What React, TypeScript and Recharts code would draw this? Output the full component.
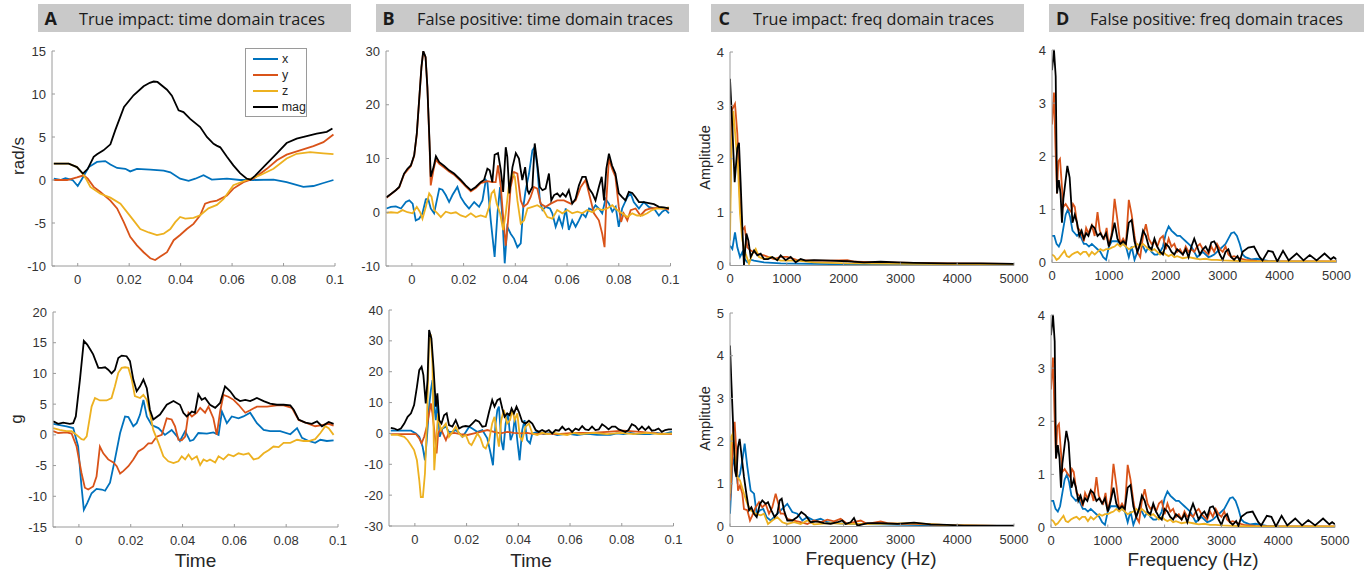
import React from 'react';
import { LineChart, Line, XAxis, YAxis, Legend } from 'recharts';

type Pt = [number, number];

// ---------------- ticks & labels ----------------
const timeTicks = [0, 0.02, 0.04, 0.06, 0.08, 0.1];
const freqTicks = [0, 1000, 2000, 3000, 4000, 5000];
const aTopYTicks = [-10, -5, 0, 5, 10, 15];
const aBotYTicks = [-15, -10, -5, 0, 5, 10, 15, 20];
const bTopYTicks = [-10, 0, 10, 20, 30];
const bBotYTicks = [-30, -20, -10, 0, 10, 20, 30, 40];
const cTopYTicks = [0, 1, 2, 3, 4];
const cBotYTicks = [0, 1, 2, 3, 4, 5];
const dYTicks = [0, 1, 2, 3, 4];
const seriesNames = ['x', 'y', 'z', 'mag'];
const seriesColors = ['#0072BD', '#D95319', '#EDB120', '#000000'];
const headerLetters = ['A', 'B', 'C', 'D'];
const headerTitles = [
  'True impact: time domain traces',
  'False positive: time domain traces',
  'True impact: freq domain traces',
  'False positive: freq domain traces',
];

// ---------------- A top: rad/s (true impact) ----------------
const aTopX: Pt[] = [[-0.0093,0.15],[-0.0067,0.0],[-0.0048,0.2],[-0.002,0.0],[0,-0.7],[0.0017,0.15],[0.0043,1.5],[0.0075,2.1],[0.0107,2.2],[0.0127,1.8],[0.0153,1.4],[0.0185,1.3],[0.0204,1.0],[0.023,1.3],[0.0282,1.2],[0.0334,1.1],[0.036,0.9],[0.0398,0.15],[0.0431,-0.1],[0.0457,0.15],[0.0489,0.55],[0.0521,0.05],[0.058,0.15],[0.0631,0.0],[0.0683,0.0],[0.0761,0.05],[0.0812,-0.25],[0.0877,-0.8],[0.0916,-0.7],[0.0955,-0.35],[0.0994,0.0]];
const aTopY: Pt[] = [[-0.0093,0.0],[-0.0041,0.0],[-0.0003,0.3],[0.0023,0.55],[0.0039,0.15],[0.0062,-0.8],[0.0088,-1.4],[0.0127,-2.4],[0.0153,-3.3],[0.0179,-4.9],[0.0204,-6.6],[0.023,-7.6],[0.0256,-8.4],[0.0282,-9.1],[0.0301,-9.3],[0.0321,-8.9],[0.0347,-8.4],[0.0373,-7.0],[0.0398,-6.4],[0.0424,-5.7],[0.045,-5.1],[0.0476,-4.1],[0.0495,-2.75],[0.0515,-2.55],[0.0541,-2.4],[0.058,-1.8],[0.0605,-1.0],[0.0644,-0.25],[0.0683,0.15],[0.0735,1.3],[0.0774,2.3],[0.0812,2.95],[0.0864,3.45],[0.0916,3.95],[0.0955,4.4],[0.0994,5.3]];
const aTopZ: Pt[] = [[-0.0093,1.9],[-0.0035,1.9],[-0.0003,1.5],[0.002,0.7],[0.0035,0.0],[0.0049,-0.8],[0.0088,-1.6],[0.0127,-2.05],[0.0166,-2.75],[0.0191,-3.7],[0.0217,-4.7],[0.0243,-5.7],[0.0276,-6.1],[0.0308,-6.4],[0.0334,-6.25],[0.036,-5.7],[0.0379,-4.9],[0.0398,-4.3],[0.0418,-4.5],[0.045,-4.4],[0.0476,-4.1],[0.0508,-3.3],[0.0541,-2.9],[0.0567,-2.2],[0.0605,-0.6],[0.0657,0.0],[0.0709,0.55],[0.0761,1.3],[0.0812,2.5],[0.0851,3.05],[0.0903,3.25],[0.0955,3.1],[0.0994,3.0]];
const aTopMag: Pt[] = [[-0.0093,1.9],[-0.0035,1.9],[-0.0003,1.5],[0.002,0.75],[0.0039,1.3],[0.0062,2.7],[0.0075,3.0],[0.01,3.45],[0.0127,4.15],[0.0146,5.8],[0.018,8.5],[0.0217,9.85],[0.0256,10.9],[0.028,11.3],[0.0295,11.45],[0.031,11.4],[0.0347,10.5],[0.0366,9.8],[0.0392,8.1],[0.0411,7.9],[0.0437,7.1],[0.0476,6.15],[0.0502,5.0],[0.0528,4.2],[0.054,4.0],[0.0554,3.8],[0.058,2.7],[0.0605,1.7],[0.0631,0.8],[0.0657,0.15],[0.0672,0.05],[0.069,0.5],[0.0735,1.9],[0.0774,3.1],[0.0812,4.3],[0.0851,4.8],[0.089,5.1],[0.0929,5.4],[0.0968,5.6],[0.099,6.0]];

// ---------------- A bottom: g (true impact) ----------------
const aBotX: Pt[] = [[-0.0099,1.8],[-0.0048,1.4],[-0.0022,1.1],[-0.0003,-1.9],[0.001,-8.4],[0.0019,-12.2],[0.0032,-11.1],[0.0049,-9.5],[0.0068,-8.8],[0.0088,-8.9],[0.0101,-9.1],[0.012,-7.8],[0.0139,-4.0],[0.0159,0.3],[0.0178,3.0],[0.0191,2.9],[0.021,1.4],[0.0223,1.9],[0.0236,3.3],[0.0249,5.7],[0.0262,3.0],[0.0281,1.6],[0.0307,1.1],[0.0332,0.0],[0.0358,0.8],[0.0378,-0.2],[0.039,-1.0],[0.041,0.6],[0.0429,-1.0],[0.0442,-0.8],[0.0461,0.3],[0.0494,0.2],[0.0519,0.4],[0.0539,0.0],[0.0552,3.8],[0.0571,1.9],[0.059,3.0],[0.0616,2.7],[0.0635,3.0],[0.0661,3.6],[0.0687,1.9],[0.0713,0.8],[0.0738,0.6],[0.0777,0.6],[0.0816,0.1],[0.0842,1.1],[0.0861,-0.5],[0.0887,-1.0],[0.0912,-1.3],[0.0932,-0.8],[0.0957,-1.0],[0.0983,-0.9]];
const aBotY: Pt[] = [[-0.0099,0.6],[-0.008,0.3],[-0.0048,0.4],[-0.0028,0.2],[-0.0009,-1.9],[0.001,-6.2],[0.0023,-8.6],[0.0036,-8.9],[0.0055,-8.4],[0.0068,-6.8],[0.0081,-1.9],[0.0094,-3.0],[0.0113,-4.0],[0.0133,-4.5],[0.0146,-5.1],[0.0159,-6.3],[0.0171,-5.9],[0.0191,-5.1],[0.021,-4.0],[0.0229,-2.7],[0.0249,-2.2],[0.0268,-1.4],[0.0281,-1.4],[0.03,-0.3],[0.032,0.0],[0.0339,2.7],[0.0358,2.5],[0.0371,1.4],[0.0384,-0.8],[0.0397,-0.9],[0.041,-0.3],[0.0423,3.6],[0.0436,3.0],[0.0455,3.6],[0.0468,4.4],[0.0487,3.6],[0.05,4.6],[0.0519,2.7],[0.0532,0.0],[0.0545,3.8],[0.0558,6.5],[0.0577,6.2],[0.0597,5.7],[0.0616,4.9],[0.0642,3.6],[0.0661,4.0],[0.0687,4.6],[0.0726,4.6],[0.0764,4.8],[0.079,4.8],[0.0822,4.4],[0.0848,2.4],[0.088,1.9],[0.0912,1.4],[0.0938,1.6],[0.0964,1.8],[0.0983,1.5]];
const aBotZ: Pt[] = [[-0.0099,1.1],[-0.0074,0.8],[-0.0048,0.6],[-0.0028,0.6],[-0.0009,0.0],[0.001,-0.7],[0.0019,-0.8],[0.003,-0.25],[0.0049,4.6],[0.0062,6.0],[0.0081,5.6],[0.0107,5.6],[0.0126,6.0],[0.0139,7.9],[0.0152,10.1],[0.0165,10.9],[0.0178,11.0],[0.0191,10.9],[0.0204,9.0],[0.0216,6.3],[0.0236,6.0],[0.0249,6.5],[0.0262,5.7],[0.0274,3.6],[0.0287,0.8],[0.0307,-1.3],[0.0326,-3.5],[0.0345,-4.3],[0.0365,-4.6],[0.0384,-4.3],[0.0397,-3.5],[0.041,-4.0],[0.0423,-3.2],[0.0436,-4.0],[0.0455,-3.5],[0.0468,-4.9],[0.0481,-4.0],[0.0494,-4.3],[0.0506,-4.0],[0.0526,-4.5],[0.0539,-3.5],[0.0558,-4.0],[0.0577,-3.2],[0.0597,-3.5],[0.0616,-3.0],[0.0635,-3.2],[0.0655,-3.0],[0.0674,-4.0],[0.0693,-3.8],[0.0713,-3.0],[0.0732,-2.5],[0.0751,-1.9],[0.0771,-2.0],[0.079,-1.3],[0.0816,-1.3],[0.0842,-0.8],[0.0867,-1.0],[0.0887,-1.0],[0.0912,-0.7],[0.0932,0.3],[0.0951,1.4],[0.0964,1.1],[0.0983,0.0]];
const aBotMag: Pt[] = [[-0.0099,2.2],[-0.008,1.8],[-0.0061,2.0],[-0.0035,1.8],[-0.0022,1.9],[-0.0012,3.0],[0.0004,9.0],[0.0019,15.3],[0.0032,14.7],[0.0045,13.8],[0.0055,13.1],[0.0075,10.9],[0.0088,10.9],[0.0101,11.0],[0.0113,10.6],[0.0126,10.0],[0.0139,10.6],[0.0152,12.5],[0.0165,12.9],[0.0184,12.8],[0.0197,12.0],[0.021,9.0],[0.0223,7.1],[0.0236,7.9],[0.0249,9.0],[0.0262,7.6],[0.0274,4.1],[0.0287,2.5],[0.0313,3.3],[0.0339,4.9],[0.0365,5.5],[0.039,4.9],[0.0403,3.6],[0.0416,3.0],[0.0436,3.8],[0.0448,3.6],[0.0461,6.6],[0.0474,5.7],[0.0487,6.0],[0.0506,4.9],[0.0526,4.4],[0.0545,5.2],[0.0564,7.9],[0.0584,7.1],[0.0603,6.0],[0.0622,5.5],[0.0642,5.7],[0.0661,5.5],[0.0687,6.0],[0.0713,5.5],[0.0738,5.1],[0.0764,4.9],[0.079,4.9],[0.0816,4.8],[0.0829,4.1],[0.0848,2.5],[0.0874,2.0],[0.0899,1.8],[0.0919,2.2],[0.0938,1.4],[0.0964,2.1],[0.0983,1.8]];

// ---------------- B top: rad/s (false positive) ----------------
const bTopX: Pt[] = [[-0.0098,0.7],[-0.0081,1.0],[-0.0062,1.1],[-0.0042,0.7],[-0.0023,1.9],[-0.001,2.2],[0.0003,1.6],[0.0015,-1.5],[0.0028,-1.2],[0.0041,-0.2],[0.0054,2.4],[0.0063,2.5],[0.0073,0.7],[0.0086,-0.2],[0.0106,4.4],[0.0118,4.2],[0.0131,3.2],[0.0144,1.9],[0.0157,3.2],[0.0176,4.7],[0.0189,2.8],[0.0205,1.6],[0.0221,0.7],[0.0241,1.9],[0.026,1.0],[0.0273,2.2],[0.0286,6.0],[0.0292,5.6],[0.0305,-1.5],[0.032,-8.3],[0.0331,-0.2],[0.0341,4.7],[0.035,-0.9],[0.0359,-9.5],[0.0369,-2.7],[0.0382,-4.0],[0.0395,-4.9],[0.0408,-6.5],[0.0421,-5.8],[0.0431,1.0],[0.044,4.1],[0.0453,7.2],[0.0466,11.5],[0.0475,12.1],[0.0485,8.4],[0.0495,2.2],[0.0505,0.4],[0.0517,1.0],[0.0534,0.7],[0.0543,-0.2],[0.0556,-2.7],[0.0569,-0.9],[0.0582,-2.7],[0.0595,0.7],[0.0607,-3.3],[0.062,-1.5],[0.0633,-2.7],[0.0646,-1.5],[0.0659,-0.2],[0.0672,-0.9],[0.0685,0.7],[0.0698,0.4],[0.071,1.3],[0.0723,0.7],[0.0736,-0.2],[0.0749,2.5],[0.0762,1.6],[0.0775,0.1],[0.0788,1.0],[0.08,-2.7],[0.0813,0.7],[0.0833,2.8],[0.0846,3.5],[0.0858,1.9],[0.0878,0.7],[0.0897,1.9],[0.0916,1.0],[0.0936,0.7],[0.0955,-0.6],[0.0968,0.1],[0.0981,0.5],[0.0994,-0.2]];
const bTopY: Pt[] = [[-0.0098,2.7],[-0.0049,4.6],[-0.003,7.1],[-0.0004,8.6],[0.0009,10.5],[0.0019,14.5],[0.0028,20.7],[0.0037,26.9],[0.0044,29.9],[0.0053,28.8],[0.006,23.2],[0.0068,13.0],[0.0073,5.0],[0.0084,8.0],[0.0093,9.8],[0.0106,9.0],[0.0125,8.3],[0.0144,7.6],[0.0163,7.0],[0.0189,5.8],[0.0208,4.8],[0.0228,3.9],[0.0247,4.5],[0.0266,5.4],[0.0279,5.6],[0.0292,5.8],[0.0311,5.6],[0.0324,5.6],[0.0333,8.7],[0.0344,4.7],[0.0353,-0.9],[0.0363,-6.2],[0.0372,-1.5],[0.0382,4.7],[0.0395,7.5],[0.0408,7.2],[0.0421,2.2],[0.0431,1.0],[0.0447,1.6],[0.0459,2.8],[0.0472,4.7],[0.0485,4.4],[0.0498,1.6],[0.0517,1.0],[0.0537,1.6],[0.0562,2.2],[0.0588,2.2],[0.0614,1.6],[0.0633,2.2],[0.0653,4.7],[0.0672,6.0],[0.0685,3.5],[0.0704,-0.2],[0.0723,-1.5],[0.0736,-4.0],[0.0745,-6.5],[0.0752,2.2],[0.0762,10.0],[0.0774,8.1],[0.0787,6.6],[0.08,1.0],[0.0809,-1.8],[0.0819,-0.2],[0.0833,-1.5],[0.0846,0.4],[0.0865,0.7],[0.0884,-0.6],[0.0903,0.4],[0.0923,0.7],[0.0949,0.8],[0.0974,0.7],[0.0994,0.5]];
const bTopZ: Pt[] = [[-0.0098,-0.1],[-0.0081,0.0],[-0.0055,-0.1],[-0.0036,0.4],[-0.0017,0.0],[0.0003,-0.2],[0.0019,1.0],[0.0032,0.0],[0.0041,-1.2],[0.0054,1.0],[0.0067,3.5],[0.0076,2.9],[0.0086,0.4],[0.0099,-0.2],[0.0112,-0.9],[0.0131,0.1],[0.0151,-0.2],[0.017,0.0],[0.0189,-0.6],[0.0208,-0.9],[0.0228,-0.2],[0.0247,-0.9],[0.0266,-0.6],[0.0286,-0.9],[0.0299,1.0],[0.0308,3.5],[0.0318,4.1],[0.0328,1.6],[0.0341,-0.2],[0.0353,-3.3],[0.0363,-0.2],[0.0376,5.3],[0.0389,7.2],[0.0398,6.6],[0.0408,2.2],[0.0421,-2.1],[0.0434,-1.5],[0.0447,0.7],[0.0466,1.0],[0.0485,1.3],[0.0505,0.7],[0.0524,-0.9],[0.0543,-1.2],[0.0562,0.4],[0.0582,-0.2],[0.0601,0.4],[0.062,-0.2],[0.064,0.1],[0.0659,-0.2],[0.0678,0.4],[0.0698,0.0],[0.0717,0.7],[0.0736,0.4],[0.0755,0.7],[0.0775,1.3],[0.0794,0.4],[0.0813,-0.2],[0.0833,-0.9],[0.0852,-0.2],[0.0871,-0.6],[0.0891,-0.6],[0.091,-0.2],[0.0929,0.4],[0.0949,0.7],[0.0974,0.7],[0.0994,0.9]];
const bTopMag: Pt[] = [[-0.0098,2.8],[-0.0081,3.4],[-0.0062,4.1],[-0.0049,4.7],[-0.003,7.2],[-0.0017,8.1],[-0.0004,8.7],[0.0009,10.6],[0.0019,14.6],[0.0028,20.8],[0.0037,27.0],[0.0044,30.0],[0.0053,28.9],[0.006,23.3],[0.0068,13.4],[0.0073,6.6],[0.0084,8.4],[0.0093,10.4],[0.0106,9.3],[0.0125,8.6],[0.0144,7.8],[0.0163,7.2],[0.0189,6.0],[0.0208,5.0],[0.0228,4.1],[0.0247,4.7],[0.0266,5.6],[0.0279,6.0],[0.0292,8.1],[0.0301,7.8],[0.0311,5.6],[0.032,10.7],[0.0333,11.0],[0.0344,7.8],[0.0353,3.8],[0.0363,12.1],[0.0369,10.3],[0.0377,3.5],[0.0389,8.4],[0.0402,11.0],[0.0414,10.0],[0.0427,6.0],[0.0438,8.4],[0.0447,4.1],[0.0453,3.5],[0.0466,4.7],[0.0475,12.8],[0.0485,9.0],[0.0495,4.7],[0.0505,4.1],[0.0517,4.4],[0.053,7.2],[0.0539,2.2],[0.055,3.2],[0.0562,3.5],[0.0573,2.9],[0.0583,3.5],[0.0595,2.9],[0.0607,4.1],[0.062,1.6],[0.0633,2.5],[0.0646,5.0],[0.0659,6.6],[0.0672,6.6],[0.0685,4.4],[0.0698,3.5],[0.071,2.2],[0.0723,4.7],[0.0734,6.6],[0.0743,2.2],[0.0752,8.1],[0.0762,10.9],[0.0774,8.7],[0.0787,7.2],[0.08,3.5],[0.0813,2.8],[0.0826,2.2],[0.0839,3.8],[0.0852,3.6],[0.0865,2.8],[0.0878,1.9],[0.0897,1.9],[0.0916,1.7],[0.0936,1.5],[0.0955,1.0],[0.0974,0.9],[0.0994,0.7]];

// ---------------- B bottom: g (false positive) ----------------
const bBotX: Pt[] = [[-0.0093,0.9],[-0.0067,0.9],[-0.0041,0.9],[-0.0015,0.9],[0.0004,0.0],[0.0017,-1.1],[0.003,-4.3],[0.0039,-8.7],[0.0046,-2.2],[0.0055,8.7],[0.0062,14.0],[0.0068,17.3],[0.0075,8.7],[0.0081,4.3],[0.0087,10.8],[0.0096,-1.1],[0.0107,1.6],[0.012,2.2],[0.0132,0.5],[0.0145,0.5],[0.0158,1.1],[0.0171,0.2],[0.0184,-1.1],[0.0197,0.5],[0.021,2.2],[0.0222,1.6],[0.0242,0.5],[0.0261,1.1],[0.028,-1.6],[0.0293,-6.5],[0.0302,-10.3],[0.0312,3.2],[0.0319,7.6],[0.0325,8.7],[0.0334,-2.2],[0.0342,-5.4],[0.0351,3.2],[0.036,6.5],[0.037,-2.2],[0.0379,0.0],[0.0387,5.4],[0.0396,-2.2],[0.0405,-8.7],[0.0415,1.1],[0.0424,4.3],[0.0434,-2.2],[0.0445,-3.2],[0.0454,0.0],[0.0473,0.5],[0.0499,-0.2],[0.0524,0.2],[0.055,-0.5],[0.0576,-0.2],[0.0602,-0.2],[0.0627,-0.5],[0.0653,-0.2],[0.0679,-0.2],[0.0704,-0.5],[0.073,-0.5],[0.0756,-0.5],[0.0781,0.0],[0.0807,-0.2],[0.0833,0.2],[0.0859,-0.2],[0.0884,-0.2],[0.091,-0.2],[0.0936,0.2],[0.0961,-0.2],[0.0994,0.5]];
const bBotY: Pt[] = [[-0.0093,-0.2],[-0.0028,-0.2],[0.0004,-0.2],[0.0017,-1.6],[0.0026,-3.2],[0.0036,-1.1],[0.0046,2.2],[0.0055,6.5],[0.0062,9.7],[0.0068,6.5],[0.0075,1.1],[0.0084,-6.5],[0.009,0.0],[0.01,1.6],[0.0111,-0.5],[0.012,-2.2],[0.0129,-0.2],[0.0152,0.2],[0.0177,-0.2],[0.0203,-0.5],[0.0229,0.0],[0.0254,0.5],[0.028,1.1],[0.0306,0.5],[0.0332,0.0],[0.0357,0.5],[0.0383,0.2],[0.0409,0.0],[0.0434,0.2],[0.046,-0.2],[0.0486,0.0],[0.055,-0.2],[0.0614,0.2],[0.0679,0.2],[0.0743,0.5],[0.0807,0.9],[0.0871,0.5],[0.0936,0.0],[0.0994,-0.2]];
const bBotZ: Pt[] = [[-0.0093,-0.5],[-0.0067,-0.5],[-0.0041,-1.1],[-0.0028,-2.2],[-0.0015,-3.8],[-0.0003,-5.4],[0.0008,-8.7],[0.0017,-15.1],[0.0023,-20.6],[0.0031,-20.6],[0.0039,-13.0],[0.0046,2.2],[0.0055,30.3],[0.0062,31.3],[0.0068,22.7],[0.0075,-11.9],[0.0081,-4.3],[0.009,6.5],[0.01,1.1],[0.0111,2.2],[0.012,3.2],[0.0132,-1.1],[0.0145,0.5],[0.0158,2.2],[0.0171,0.0],[0.0184,-1.1],[0.0197,-0.5],[0.021,-3.2],[0.0219,-3.8],[0.0229,-2.2],[0.0242,0.0],[0.0254,-1.6],[0.0265,-4.3],[0.0274,-4.9],[0.0287,-2.2],[0.0299,3.2],[0.0308,5.4],[0.0319,-1.1],[0.0325,-4.3],[0.0334,4.3],[0.0344,7.6],[0.0357,3.2],[0.0368,4.3],[0.0377,7.6],[0.0386,4.3],[0.0396,6.5],[0.0406,-1.1],[0.0415,-2.2],[0.0428,2.2],[0.0441,3.2],[0.0454,0.0],[0.0473,-0.5],[0.0492,0.2],[0.0512,-0.2],[0.0537,0.2],[0.0563,-0.2],[0.0589,-0.5],[0.0614,0.2],[0.064,-0.2],[0.0692,0.2],[0.0743,-0.2],[0.0794,0.2],[0.0846,-0.2],[0.0897,0.2],[0.0949,-0.2],[0.0994,0.0]];
const bBotMag: Pt[] = [[-0.0093,1.8],[-0.008,1.6],[-0.0067,1.1],[-0.0054,1.6],[-0.0041,3.2],[-0.0028,5.4],[-0.0015,6.5],[-0.0003,9.2],[0.0008,15.1],[0.0017,20.5],[0.0026,21.6],[0.0033,18.9],[0.0042,9.7],[0.0049,17.3],[0.0055,33.5],[0.0064,30.8],[0.0072,21.6],[0.0081,8.7],[0.0087,13.0],[0.0094,4.3],[0.0103,3.2],[0.0113,5.9],[0.0123,6.5],[0.0132,2.7],[0.0145,2.2],[0.0158,4.3],[0.0171,1.6],[0.0184,2.2],[0.0197,2.4],[0.021,2.2],[0.0222,3.2],[0.0235,4.3],[0.0248,3.8],[0.0261,2.2],[0.0274,2.4],[0.0287,7.0],[0.0299,10.8],[0.0308,8.7],[0.0319,10.8],[0.0329,11.3],[0.0338,8.1],[0.0347,5.4],[0.0357,6.5],[0.0366,5.9],[0.0374,8.1],[0.0383,6.5],[0.0393,8.7],[0.0402,7.0],[0.0415,3.8],[0.0428,3.2],[0.0441,4.1],[0.0454,3.2],[0.0467,1.1],[0.0479,0.5],[0.0492,1.1],[0.0505,0.5],[0.0518,1.1],[0.0531,0.0],[0.0544,1.1],[0.0557,0.9],[0.057,2.2],[0.0582,1.1],[0.0595,1.6],[0.0608,0.5],[0.0621,1.6],[0.0634,1.1],[0.0647,2.4],[0.0659,1.3],[0.0672,1.1],[0.0685,2.2],[0.0698,1.1],[0.0711,1.3],[0.0724,3.0],[0.0737,2.2],[0.0749,1.3],[0.0762,2.2],[0.0775,2.2],[0.0788,1.3],[0.0801,0.9],[0.0814,0.5],[0.0826,1.1],[0.0839,3.0],[0.0852,2.4],[0.0865,1.1],[0.0878,2.2],[0.0891,1.1],[0.0904,2.2],[0.0916,0.9],[0.0929,1.1],[0.0942,1.6],[0.0955,0.5],[0.0968,1.1],[0.0981,1.3],[0.0994,1.3]];

// ---------------- C top: amplitude (true impact, rotation) ----------------
const cTopX: Pt[] = [[0,0.37],[41,0.31],[88,0.62],[129,0.34],[176,0.16],[217,0.25],[258,0.12],[305,0.06],[364,0.11],[423,0.09],[599,0.06],[892,0.04],[1479,0.03],[2066,0.02],[5000,0.01]];
const cTopY: Pt[] = [[0,1.1],[29,2.9],[88,3.03],[129,2.47],[176,1.2],[217,0.66],[258,0.72],[305,0.34],[364,0.28],[481,0.22],[599,0.19],[775,0.12],[892,0.16],[1009,0.16],[1186,0.1],[1479,0.09],[1772,0.09],[2066,0.1],[2200,0.07],[2653,0.06],[3827,0.04],[5000,0.03]];
const cTopZ: Pt[] = [[0,0.47],[23,2.15],[59,2.9],[100,2.35],[141,1.84],[176,0.97],[217,0.47],[276,0.22],[335,0.03],[393,0.22],[452,0.31],[511,0.16],[599,0.12],[716,0.16],[892,0.09],[1186,0.09],[1479,0.06],[2066,0.04],[3240,0.03],[5000,0.02]];
const cTopMag: Pt[] = [[0,3.5],[41,2.6],[82,1.56],[129,2.2],[158,2.3],[188,1.53],[217,0.72],[246,0],[288,0.6],[323,0.47],[364,0.16],[423,0.28],[481,0.19],[540,0.22],[599,0.12],[669,0.12],[745,0.16],[833,0.1],[892,0.19],[980,0.1],[1068,0.16],[1156,0.06],[1244,0.12],[1332,0.09],[1479,0.1],[1772,0.09],[2066,0.08],[2359,0.06],[2653,0.07],[2946,0.06],[3240,0.05],[3827,0.04],[4413,0.04],[5000,0.03]];

// ---------------- C bottom: amplitude (true impact, linear) ----------------
const cBotX: Pt[] = [[0,0.3],[41,1.4],[82,1.63],[129,1.08],[176,1.23],[217,1.55],[258,1.94],[305,1.4],[364,0.84],[423,0.77],[470,0.3],[528,0.38],[587,0.41],[645,0.22],[716,0.14],[804,0.26],[892,0.38],[1009,0.53],[1097,0.34],[1186,0.3],[1274,0.14],[1362,0.22],[1479,0.14],[1596,0.18],[1714,0.1],[1831,0.08],[2066,0.06],[2653,0.05],[3827,0.02],[5000,0.01]];
const cBotY: Pt[] = [[0,0.61],[23,1.08],[59,2.33],[82,2.45],[106,1.86],[141,0.84],[176,0.96],[217,0.77],[246,0.41],[305,0.38],[352,0.14],[393,0.26],[452,0.45],[511,0.57],[569,0.45],[628,0.53],[687,0.3],[745,0.45],[804,0.77],[851,0.53],[892,0.3],[951,0.3],[1009,0.18],[1127,0.14],[1244,0.1],[1362,0.06],[1479,0.14],[1596,0.1],[1714,0.16],[1831,0.12],[1948,0.18],[2066,0.06],[2183,0.1],[2301,0.14],[2418,0.06],[2653,0.12],[2770,0.08],[3005,0.06],[3240,0.06],[3827,0.03],[5000,0.01]];
const cBotZ: Pt[] = [[0,0.77],[23,2.1],[47,2.17],[82,1.7],[129,1.16],[176,1.08],[246,0.77],[305,0.53],[364,0.38],[452,0.3],[540,0.26],[599,0.3],[669,0.06],[745,0.14],[833,0.22],[921,0.1],[1009,0.06],[1127,0.1],[1244,0.06],[1362,0.14],[1479,0.05],[1772,0.08],[2066,0.06],[2653,0.06],[3240,0.08],[3827,0.03],[5000,0.01]];
const cBotMag: Pt[] = [[0,4.24],[23,3.42],[59,2.25],[88,1.31],[112,1.16],[141,1.86],[170,2.05],[200,1.7],[246,1.16],[288,0.77],[335,0.38],[376,0.45],[423,0.3],[470,0.22],[528,0.53],[569,0.61],[628,0.53],[669,0.57],[728,0.38],[786,0.22],[833,0.3],[874,0.61],[910,0.65],[951,0.38],[1009,0.14],[1097,0.14],[1186,0.22],[1256,0.34],[1332,0.26],[1420,0.1],[1538,0.12],[1655,0.08],[1772,0.06],[1890,0.1],[1978,0.14],[2037,0.06],[2125,0.1],[2183,0.2],[2242,0.02],[2418,0.08],[2653,0.08],[2946,0.06],[3240,0.09],[3533,0.05],[3827,0.04],[4120,0.02],[4413,0.02],[5000,0.02]];

// ---------------- D: amplitude (false positive) ----------------
const dX: Pt[] = [[0,0.5],[40,0.5],[80,0.35],[120,0.3],[160,0.4],[200,0.65],[240,0.9],[280,1.0],[320,0.85],[360,0.6],[400,0.55],[440,0.5],[480,0.55],[520,0.45],[560,0.35],[600,0.35],[650,0.3],[700,0.35],[750,0.3],[800,0.25],[850,0.2],[900,0.1],[950,0.05],[1000,0.3],[1050,0.4],[1100,0.4],[1150,0.4],[1200,0.35],[1250,0.35],[1300,0.3],[1350,0.1],[1400,0.3],[1450,0.05],[1500,0.2],[1550,0.35],[1600,0.3],[1650,0.2],[1700,0.3],[1750,0.2],[1800,0.15],[1850,0.15],[1900,0.2],[1950,0.3],[2000,0.55],[2050,0.68],[2100,0.6],[2150,0.55],[2200,0.5],[2250,0.5],[2300,0.45],[2350,0.4],[2400,0.35],[2450,0.3],[2500,0.2],[2550,0.1],[2600,0.15],[2650,0.2],[2700,0.15],[2750,0.1],[2800,0.12],[2850,0.15],[2900,0.2],[2950,0.25],[3000,0.3],[3050,0.35],[3100,0.45],[3150,0.55],[3200,0.57],[3250,0.5],[3300,0.35],[3350,0.15],[3400,0.1],[3500,0.06],[3600,0.07],[3700,0.05],[3800,0.03],[4000,0.02],[5000,0.01]];
const dY: Pt[] = [[0,2.6],[35,3.2],[60,2.2],[88,1.3],[110,1.9],[140,1.95],[170,1.5],[200,1.05],[240,1.1],[270,1.05],[300,1.0],[340,0.95],[370,1.1],[400,1.05],[450,0.65],[500,0.6],[560,0.4],[600,0.65],[640,0.55],[700,0.7],[750,0.5],[800,0.95],[840,0.6],[880,0.5],[920,0.45],[960,0.65],[1000,0.3],[1050,0.55],[1100,1.2],[1150,0.8],[1200,0.35],[1250,0.45],[1300,0.35],[1350,1.18],[1400,0.9],[1450,0.5],[1500,0.2],[1550,0.1],[1600,0.5],[1650,0.72],[1700,0.45],[1750,0.35],[1800,0.4],[1850,0.3],[1900,0.45],[1950,0.5],[2000,0.25],[2050,0.45],[2100,0.3],[2150,0.35],[2200,0.2],[2250,0.25],[2300,0.15],[2350,0.3],[2400,0.2],[2450,0.25],[2500,0.2],[2550,0.3],[2600,0.35],[2650,0.25],[2700,0.2],[2750,0.15],[2800,0.3],[2850,0.2],[2900,0.35],[2950,0.25],[3000,0.2],[3050,0.3],[3100,0.15],[3150,0.1],[3200,0.12],[3300,0.08],[3400,0.05],[3500,0.04],[3600,0.03],[3800,0.02],[4000,0.02],[5000,0.02]];
const dZ: Pt[] = [[0,0.15],[40,0.12],[80,0.05],[120,0.08],[170,0.15],[220,0.22],[260,0.12],[300,0.1],[350,0.15],[400,0.18],[450,0.2],[500,0.15],[550,0.2],[600,0.2],[650,0.12],[700,0.2],[750,0.15],[800,0.2],[850,0.25],[900,0.22],[950,0.25],[1000,0.25],[1050,0.28],[1100,0.3],[1150,0.35],[1200,0.3],[1250,0.35],[1300,0.3],[1350,0.25],[1400,0.28],[1450,0.3],[1500,0.35],[1550,0.3],[1600,0.35],[1650,0.3],[1700,0.25],[1750,0.22],[1800,0.25],[1850,0.2],[1900,0.15],[1950,0.2],[2000,0.15],[2050,0.12],[2100,0.15],[2150,0.1],[2200,0.12],[2300,0.08],[2400,0.1],[2500,0.08],[2600,0.06],[2700,0.07],[2800,0.05],[2900,0.05],[3000,0.04],[3200,0.03],[3500,0.02],[4000,0.02],[5000,0.02]];
const dMag: Pt[] = [[0,3.62],[35,4.0],[65,3.5],[88,1.3],[120,1.55],[150,1.3],[175,0.75],[200,1.2],[270,1.82],[310,1.6],[360,0.75],[400,0.9],[440,0.75],[480,0.5],[520,0.6],[560,0.45],[600,0.55],[640,0.5],[700,0.7],[750,0.65],[800,0.5],[850,0.55],[900,0.45],[950,0.55],[1000,0.3],[1050,0.5],[1100,0.75],[1150,0.45],[1200,0.35],[1250,0.4],[1300,0.35],[1350,0.75],[1400,0.8],[1450,0.4],[1500,0.2],[1550,0.35],[1600,0.6],[1650,0.5],[1700,0.3],[1750,0.25],[1800,0.45],[1850,0.3],[1900,0.2],[1950,0.15],[2000,0.35],[2050,0.3],[2100,0.2],[2150,0.15],[2200,0.25],[2250,0.2],[2300,0.15],[2350,0.25],[2400,0.1],[2450,0.3],[2500,0.45],[2550,0.3],[2600,0.15],[2650,0.25],[2700,0.3],[2750,0.2],[2800,0.38],[2850,0.4],[2900,0.3],[2950,0.15],[3000,0.05],[3050,0.2],[3100,0.25],[3150,0.1],[3200,0.05],[3260,0.12],[3300,0.03],[3350,0.2],[3450,0.28],[3550,0.3],[3650,0.1],[3700,0.04],[3800,0.22],[3880,0.2],[3960,0.02],[4060,0.22],[4160,0.04],[4300,0.17],[4420,0.04],[4530,0.14],[4650,0.04],[4790,0.17],[4900,0.06],[4950,0.1],[5000,0.06]];

// ---------------- rendering ----------------
const ML = 50;
const MT = 10;
const MR = 16;
const MB = 32;
const AXIS_COLOR = '#9a9a9a';
const SANS = '"Liberation Sans", Arial, Helvetica, sans-serif';
const HEAD = '"Open Sans", "Noto Sans", sans-serif';
const TICK_STYLE = { fill: '#333333', fontSize: 13, fontFamily: SANS };

const toRows = (pts: Pt[]) => pts.map(([x, y]) => ({ x, y }));

type Series = { name: string; color: string; data: Pt[] };

const makeSeries = (arrs: Pt[][]): Series[] =>
  arrs.map((data, i) => ({ name: seriesNames[i], color: seriesColors[i], data }));

interface PanelProps {
  px: number;
  py: number;
  pw: number;
  ph: number;
  xDomain: [number, number];
  xTicks: number[];
  yDomain: [number, number];
  yTicks: number[];
  series: Series[];
  legend?: boolean;
}

function LegendBox(props: any) {
  const payload: any[] = props.payload || [];
  const items = [...payload].sort(
    (a, b) => seriesNames.indexOf(a.value) - seriesNames.indexOf(b.value)
  );
  return (
    <div
      style={{
        width: 62,
        boxSizing: 'border-box',
        border: '1px solid #9a9a9a',
        background: '#ffffff',
        padding: '2px 0 1px 0',
        fontFamily: SANS,
        fontSize: 12.5,
        color: '#262626',
      }}
    >
      {items.map((it) => {
        const c = seriesColors[seriesNames.indexOf(it.value)] || it.color;
        return (
          <div key={it.value} style={{ display: 'flex', alignItems: 'center', height: 16 }}>
            <span
              style={{
                display: 'inline-block',
                width: 25,
                height: 2,
                marginLeft: 7,
                marginRight: 4,
                background: c,
              }}
            />
            <span style={{ lineHeight: '16px' }}>{it.value}</span>
          </div>
        );
      })}
    </div>
  );
}

function Panel({ px, py, pw, ph, xDomain, xTicks, yDomain, yTicks, series, legend }: PanelProps) {
  return (
    <div style={{ position: 'absolute', left: px - ML, top: py - MT }}>
      <LineChart
        width={pw + ML + MR}
        height={ph + MT + MB}
        margin={{ top: MT, right: MR, bottom: 0, left: 0 }}
      >
        <XAxis
          type="number"
          dataKey="x"
          domain={xDomain}
          ticks={xTicks}
          interval={0}
          allowDataOverflow
          height={MB}
          stroke={AXIS_COLOR}
          tickSize={-3}
          tickMargin={11.5}
          tick={TICK_STYLE}
        />
        <YAxis
          type="number"
          domain={yDomain}
          ticks={yTicks}
          interval={0}
          allowDataOverflow
          width={ML}
          stroke={AXIS_COLOR}
          tickSize={-3}
          tickMargin={9}
          tick={TICK_STYLE}
        />
        {series.map((s) => (
          <Line
            key={s.name}
            data={toRows(s.data)}
            dataKey="y"
            name={s.name}
            type="linear"
            stroke={s.color}
            strokeWidth={1.8}
            dot={false}
            activeDot={false}
            isAnimationActive={false}
          />
        ))}
        {legend && (
          <Legend
            layout="vertical"
            align="center"
            verticalAlign="middle"
            wrapperStyle={{ position: 'absolute', left: 243, top: 7, width: 62, height: 67 }}
            content={(p: any) => <LegendBox {...p} />}
          />
        )}
      </LineChart>
    </div>
  );
}

const headerBoxes = [
  { x: 38, w: 313, letterX: 44.5, titleX: 79, titleW: 246 },
  { x: 376, w: 313, letterX: 382.5, titleX: 417, titleW: 256 },
  { x: 711, w: 313, letterX: 718.5, titleX: 753, titleW: 241 },
  { x: 1049, w: 315, letterX: 1056, titleX: 1090, titleW: 253 },
];

export default function App() {
  const timeDom: [number, number] = [-0.01, 0.1];
  const freqDom: [number, number] = [0, 5000];
  return (
    <div
      style={{
        position: 'absolute',
        left: 0,
        top: 0,
        width: 1364,
        height: 571,
        background: '#ffffff',
        overflow: 'hidden',
      }}
    >
      <Panel px={52} py={51} pw={283} ph={215} xDomain={timeDom} xTicks={timeTicks} yDomain={[-10, 15]} yTicks={aTopYTicks} series={makeSeries([aTopX, aTopY, aTopZ, aTopMag])} legend />
      <Panel px={53} py={312} pw={285} ph={215} xDomain={timeDom} xTicks={timeTicks} yDomain={[-15, 20]} yTicks={aBotYTicks} series={makeSeries([aBotX, aBotY, aBotZ, aBotMag])} />
      <Panel px={385.5} py={51} pw={284.5} ph={215} xDomain={timeDom} xTicks={timeTicks} yDomain={[-10, 30]} yTicks={bTopYTicks} series={makeSeries([bTopX, bTopY, bTopZ, bTopMag])} />
      <Panel px={389} py={310} pw={284.5} ph={216} xDomain={timeDom} xTicks={timeTicks} yDomain={[-30, 40]} yTicks={bBotYTicks} series={makeSeries([bBotX, bBotY, bBotZ, bBotMag])} />
      <Panel px={729.5} py={51.5} pw={284} ph={213.5} xDomain={freqDom} xTicks={freqTicks} yDomain={[0, 4]} yTicks={cTopYTicks} series={makeSeries([cTopX, cTopY, cTopZ, cTopMag])} />
      <Panel px={729.5} py={312.5} pw={284} ph={213.5} xDomain={freqDom} xTicks={freqTicks} yDomain={[0, 5]} yTicks={cBotYTicks} series={makeSeries([cBotX, cBotY, cBotZ, cBotMag])} />
      <Panel px={1052} py={50} pw={284.5} ph={212.5} xDomain={freqDom} xTicks={freqTicks} yDomain={[0, 4]} yTicks={dYTicks} series={makeSeries([dX, dY, dZ, dMag])} />
      <Panel px={1051} py={315} pw={284} ph={212.5} xDomain={freqDom} xTicks={freqTicks} yDomain={[0, 4]} yTicks={dYTicks} series={makeSeries([dX, dY, dZ, dMag])} />

      <svg
        width={1364}
        height={571}
        style={{ position: 'absolute', left: 0, top: 0, pointerEvents: 'none' }}
      >
        {headerBoxes.map((h, i) => (
          <g key={i}>
            <rect x={h.x} y={4} width={h.w} height={28} fill="#c9c9c9" />
            <text x={h.letterX} y={25} fontFamily={HEAD} fontWeight={700} fontSize={18} fill="#1a1a1a">
              {headerLetters[i]}
            </text>
            <text
              x={h.titleX}
              y={25}
              textLength={h.titleW}
              lengthAdjust="spacingAndGlyphs"
              fontFamily={HEAD}
              fontSize={17}
              fill="#1a1a1a"
            >
              {headerTitles[i]}
            </text>
          </g>
        ))}
        <text x={24} y={156} transform="rotate(-90 24 156)" textAnchor="middle" fontFamily={SANS} fontSize={17} fill="#262626">rad/s</text>
        <text x={21.5} y={419} transform="rotate(-90 21.5 419)" textAnchor="middle" fontFamily={SANS} fontSize={17} fill="#262626">g</text>
        <text x={710} y={157.5} transform="rotate(-90 710 157.5)" textAnchor="middle" fontFamily={SANS} fontSize={14.5} fill="#262626">Amplitude</text>
        <text x={710} y={418.5} transform="rotate(-90 710 418.5)" textAnchor="middle" fontFamily={SANS} fontSize={14.5} fill="#262626">Amplitude</text>
        <text x={195.5} y={567} textAnchor="middle" fontFamily={SANS} fontSize={19} fill="#262626">Time</text>
        <text x={531} y={566.5} textAnchor="middle" fontFamily={SANS} fontSize={19} fill="#262626">Time</text>
        <text x={871} y={565} textAnchor="middle" fontFamily={SANS} fontSize={19} fill="#262626">Frequency (Hz)</text>
        <text x={1193} y={566} textAnchor="middle" fontFamily={SANS} fontSize={19} fill="#262626">Frequency (Hz)</text>
      </svg>
    </div>
  );
}
